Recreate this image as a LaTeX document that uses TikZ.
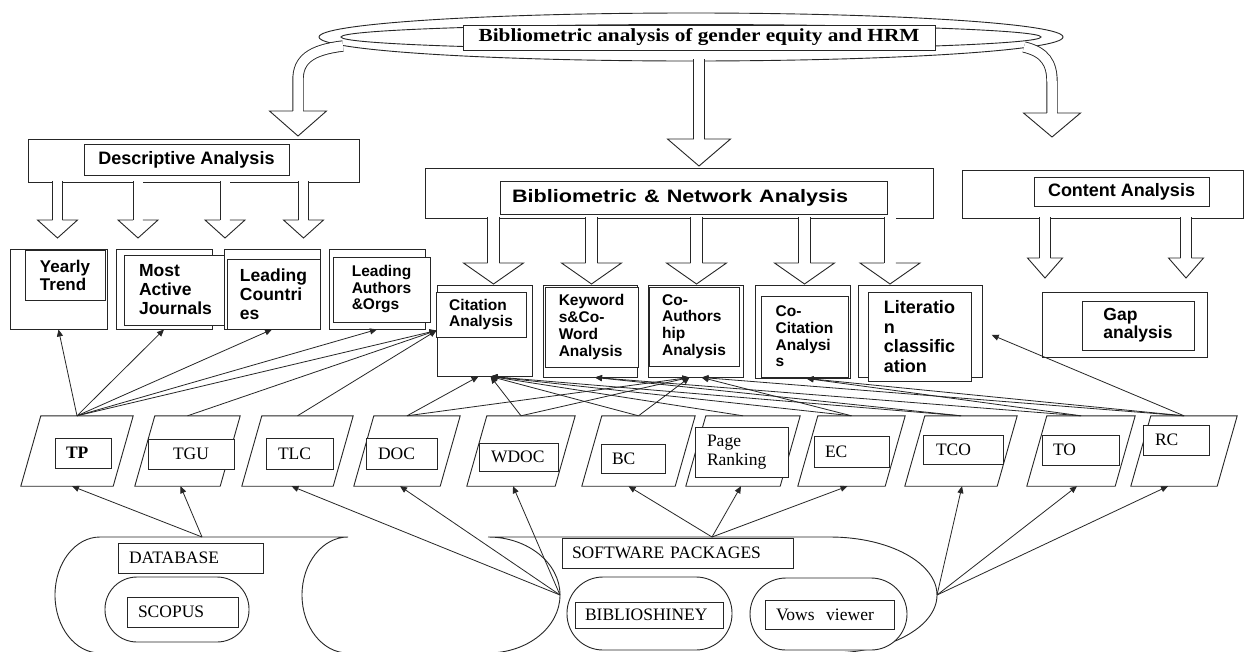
\documentclass[tikz,border=0pt]{standalone}
\usepackage{fontspec}
\usepackage{graphicx}
\setmainfont{Liberation Serif}
\setsansfont{Liberation Sans}
\usetikzlibrary{arrows.meta}
\newcommand\fSans[2]{\sffamily\bfseries\fontsize{#1}{#2}\selectfont}
\newcommand\fSerif{\rmfamily\fontsize{17.5}{19.5}\selectfont}
\newcommand\fTitle{\rmfamily\bfseries\fontsize{18.5}{20}\selectfont}
\newcommand\mkbox[7][]{\node[bx,minimum width=#5pt-#3pt,minimum height=#6pt-#4pt,#1] (#2) at ({(#3+#5)/2},{(#4+#6)/2}) {#7};}
\newcommand\mkhead[5]{\filldraw[ln,fill=white] ({#1-(#4)},#2) -- ({#1-(#5)},#2) -- (#1,#3) -- ({#1+(#5)},#2) -- ({#1+(#4)},#2);}
\newcommand\mkbarrow[6]{\draw[ln,double=white,double distance=#5pt] (#1,#2) -- (#1,#3);\mkhead{#1}{#3}{#4}{#5/2+0.45}{#6}}
% parallelogram: name, centre x, side length
\newcommand\mkpara[3]{\node[pbox,minimum width=#3pt] (#1) at (#2,451) {};
 \draw[ln] ([xshift=-10pt]#1.south west) -- ([xshift=-10pt]#1.south east) -- ([xshift=10pt]#1.north east) -- ([xshift=10pt]#1.north west) -- cycle;}
\tikzset{
 ln/.style={line width=0.9pt, draw=black!85},
 bx/.style={ln, rectangle, fill=white, inner sep=0pt, align=left},
 pbox/.style={rectangle, minimum height=70pt, inner sep=0pt},
 arr/.style={line width=0.8pt, draw=black!85, -{Triangle[length=7pt,width=6pt]}},
}
\begin{document}
\begin{tikzpicture}[x=1pt,y=-1pt]
\fill[white] (0,0) rectangle (1246,651);
\useasboundingbox (0,0) rectangle (1246,651);

% ---------- top ellipse and curved block arrows
\draw[ln, fill=white] (691,37) ellipse [x radius=372pt, y radius=24pt];
\draw[ln, double=white, double distance=9.5pt] (343,46) .. controls (310,50) and (298,60) .. (298,80) -- (298,111);
\draw[ln, double=white, double distance=9.5pt] (699,59) -- (699,139);
\draw[ln, double=white, double distance=9.5pt] (1024,47) .. controls (1045,52) and (1052,63) .. (1052,82) -- (1052,113);
\draw[ln] (691,37) ellipse [x radius=350pt, y radius=12.5pt];
\mkbox[font=\fTitle]{title}{463}{25}{935}{50}{\scalebox{1.15}[1]{Bibliometric analysis of gender equity and HRM}}
\mkhead{298}{111}{136}{5.2}{28.5}
\mkhead{699}{139}{166}{5.2}{31.5}
\mkhead{1052}{113}{137}{5.2}{28.5}

% ---------- group boxes
\mkbox{dg}{28}{139}{359}{182}{}
\mkbox[font=\fSans{18}{20}]{dgt}{84}{144}{289}{175}{Descriptive Analysis}
\mkbarrow{57.5}{181}{220}{238}{9}{20}
\mkbarrow{138}{181}{220}{238}{9}{20}
\mkbarrow{225}{181}{220}{238}{9}{20}
\mkbarrow{303.5}{181}{220}{238}{9}{20}

\mkbox{bg}{425}{168}{933}{218}{}
\mkbox[font=\fSans{18}{20},text width=363pt,inner xsep=12pt]{bgt}{500}{181}{887}{214}{\scalebox{1.2}[1]{Bibliometric \& Network Analysis}}
\mkbarrow{493.5}{217}{263}{284}{11}{30}
\mkbarrow{591.5}{217}{263}{284}{11}{30}
\mkbarrow{696.5}{217}{263}{284}{11}{30}
\mkbarrow{804.5}{217}{263}{284}{11}{30}
\mkbarrow{890}{217}{263}{284}{11}{30}

\mkbox{cg}{962}{170}{1243}{218}{}
\mkbox[font=\fSans{18}{20}]{cgt}{1034}{177}{1209}{206}{Content Analysis}
\mkbarrow{1045}{217}{258}{278}{10}{17.5}
\mkbarrow{1186}{217}{258}{278}{10}{17.5}

% ---------- analysis boxes
\mkbox{yto}{10}{249}{107}{329}{}
\mkbox[font=\fSans{17}{18}]{yt}{25}{250}{105}{300}{Yearly\\Trend}
\mkbox{mjo}{116}{249}{212}{329}{}
\mkbox[font=\fSans{17.5}{19}]{mj}{124}{255}{227}{325}{Most\\Active\\Journals}
\mkbox{lco}{224}{249}{320}{329}{}
\mkbox[font=\fSans{17.5}{19}]{lc}{227}{259}{320}{329}{Leading\\Countri\\es}
\mkbox{lao}{329}{249}{425}{329}{}
\mkbox[font=\fSans{15.5}{16.5}]{la}{333}{257}{430}{322}{Leading\\Authors\\\&Orgs}

\mkbox{cio}{437}{285}{532}{376}{}
\mkbox[font=\fSans{15.5}{16.5}]{ci}{436}{292}{526}{337}{Citation\\Analysis}
\mkbox{kwo}{543}{285}{637}{377}{}
\mkbox[font=\fSans{15.5}{16.7}]{kw}{545}{287}{638}{367}{Keyword\\s\&Co-\\Word\\Analysis}
\mkbox{cao}{648}{285}{743}{377}{}
\mkbox[font=\fSans{15.5}{16.7}]{ca}{649}{287}{739}{366}{Co-\\Authors\\hip\\Analysis}
\mkbox{cco}{755}{285}{850}{378}{}
\mkbox[font=\fSans{15.5}{16.7}]{cc}{761}{296}{848}{377}{Co-\\Citation\\Analysi\\s}
\mkbox{lio}{858}{285}{982}{377}{}
\mkbox[font=\fSans{18}{19.5}]{li}{868}{292}{971}{381}{Literatio\\n\\classific\\ation}
\mkbox{gao}{1042}{292}{1207}{357}{}
\mkbox[font=\fSans{17.5}{18}]{ga}{1082}{301}{1194}{350}{Gap\\analysis}

% ---------- parallelograms
\mkpara{tp}{77}{92}
\mkpara{tgu}{187.5}{85}
\mkpara{tlc}{297.5}{91}
\mkpara{doc}{407}{86}
\mkpara{wdoc}{521}{88}
\mkpara{bc}{638.5}{93}
\mkpara{pr}{743}{94}
\mkpara{ec}{851.5}{87}
\mkpara{tco}{961}{92}
\mkpara{to}{1081}{88}
\mkpara{rc}{1184}{86}

\mkbox[font=\fSerif\bfseries,text width=34pt,inner xsep=11pt]{tpl}{55}{438}{111}{468}{TP}
\mkbox[font=\fSerif]{tgul}{148}{439}{234}{469}{TGU}
\mkbox[font=\fSerif,text width=43pt,inner xsep=12pt]{tlcl}{266}{438}{333}{469}{TLC}
\mkbox[font=\fSerif,text width=47pt,inner xsep=12pt]{docl}{366}{438}{437}{469}{DOC}
\mkbox[font=\fSerif,text width=55pt,inner xsep=12pt]{wdocl}{479}{443}{558}{471}{WDOC}
\mkbox[font=\fSerif,text width=42pt,inner xsep=11pt]{bcl}{601}{444}{665}{473}{BC}
\mkbox[font=\fSerif,text width=69pt,inner xsep=12pt]{prl}{695}{427}{788}{477}{Page\\Ranking}
\mkbox[font=\fSerif,text width=53pt,inner xsep=11pt]{ecl}{814}{436}{889}{467}{EC}
\mkbox[font=\fSerif,text width=54pt,inner xsep=13pt]{tcol}{923}{435}{1003}{464}{TCO}
\mkbox[font=\fSerif,text width=55pt,inner xsep=11pt]{tol}{1042}{435}{1119}{465}{TO}
\mkbox[font=\fSerif,text width=42pt,inner xsep=12pt]{rcl}{1143}{425}{1209}{455}{RC}

% ---------- bottom: database
\draw[ln, fill=white] (348,537) -- (100,537) arc[start angle=90, end angle=270, x radius=45pt, y radius=58pt] -- (348,653) arc[start angle=270, end angle=90, x radius=46pt, y radius=58pt];
\mkbox[font=\fSerif,text width=123pt,inner xsep=11pt]{db}{118}{543}{263}{573}{DATABASE}
\mkbox[rounded corners=32pt]{scov}{105}{577}{249}{642}{}
\mkbox[font=\fSerif,text width=89pt,inner xsep=11pt]{sco}{127}{597}{238}{627}{SCOPUS}

% ---------- bottom: software packages
\draw[ln, fill=white] (488,537) -- (830,537) arc[start angle=90, end angle=-90, x radius=107pt, y radius=58pt] -- (488,653) arc[start angle=-90, end angle=90, x radius=72pt, y radius=58pt];
\mkbox[font=\fSerif,text width=211pt,inner xsep=10pt]{sw}{562}{538}{793}{568}{SOFTWARE PACKAGES}
\mkbox[rounded corners=36pt]{biov}{567}{577}{732}{650}{}
\mkbox[font=\fSerif,text width=128pt,inner xsep=10pt]{bio}{575}{602}{723}{628}{BIBLIOSHINEY}
\mkbox[rounded corners=36pt]{vov}{750}{578}{907}{650}{}
\mkbox[font=\fSerif,text width=107pt,inner xsep=11pt]{vo}{765}{600}{894}{629}{Vows\ \ viewer}

\coordinate (dbtop) at (202,537);
\coordinate (swl) at (560,595);
\coordinate (swtop) at (712,537);
\coordinate (swr) at (937,595);

% ---------- connectors: sources -> measures
\draw[arr] (dbtop) -- ([xshift=-5pt]tp.south);
\draw[arr] (dbtop) -- ([xshift=-7pt]tgu.south);
\draw[arr] (swl) -- ([xshift=-6pt]tlc.south);
\draw[arr] (swl) -- ([xshift=-7pt]doc.south);
\draw[arr] (swl) -- ([xshift=-8pt]wdoc.south);
\draw[arr] (swtop) -- ([xshift=-10pt]bc.south);
\draw[arr] (swtop) -- ([xshift=-2pt]pr.south);
\draw[arr] (swtop) -- ([xshift=-4pt]ec.south);
\draw[arr] (swr) -- ([xshift=1pt]tco.south);
\draw[arr] (swr) -- ([xshift=-4pt]to.south);
\draw[arr] (swr) -- ([xshift=-16pt]rc.south);

% ---------- connectors: measures -> analyses
\draw[arr] (tp.north) -- (yto.south);
\draw[arr] (tp.north) -- (mjo.south);
\draw[arr] (tp.north) -- (lco.south);
\draw[arr] (tp.north) -- (lao.south);
\draw[arr] (tp.north) -- (cio.west);
\draw[arr] (tgu.north) -- (cio.west);
\draw[arr] (tlc.north) -- (cio.west);
\draw[arr] (doc.north) -- ([xshift=-6pt]cio.south);
\draw[arr] (doc.north) -- ([xshift=-6pt]cao.south);
\draw[arr] (wdoc.north) -- ([xshift=6pt]cio.south);
\draw[arr] (wdoc.north) -- ([xshift=-6pt]cao.south);
\draw[arr] (bc.north) -- ([xshift=6pt]cio.south);
\draw[arr] (bc.north) -- ([xshift=-6pt]cao.south);
\draw[arr] (pr.north) -- ([xshift=6pt]cio.south);
\draw[arr] (ec.north) -- ([xshift=6pt]cio.south);
\draw[arr] (ec.north) -- ([xshift=6pt]cao.south);
\draw[arr] (tco.north) -- ([xshift=6pt]cio.south);
\draw[arr] (tco.north) -- ([xshift=5pt]kwo.south);
\draw[arr] (to.north) -- ([xshift=5pt]kwo.south);
\draw[arr] (to.north) -- ([xshift=4pt]cco.south);
\draw[arr] (rc.north) -- ([xshift=6pt]cao.south);
\draw[arr] (rc.north) -- ([xshift=4pt]cco.south);
\draw[arr, shorten >=10pt] (rc.north) -- (lio.east);
\end{tikzpicture}
\end{document}
